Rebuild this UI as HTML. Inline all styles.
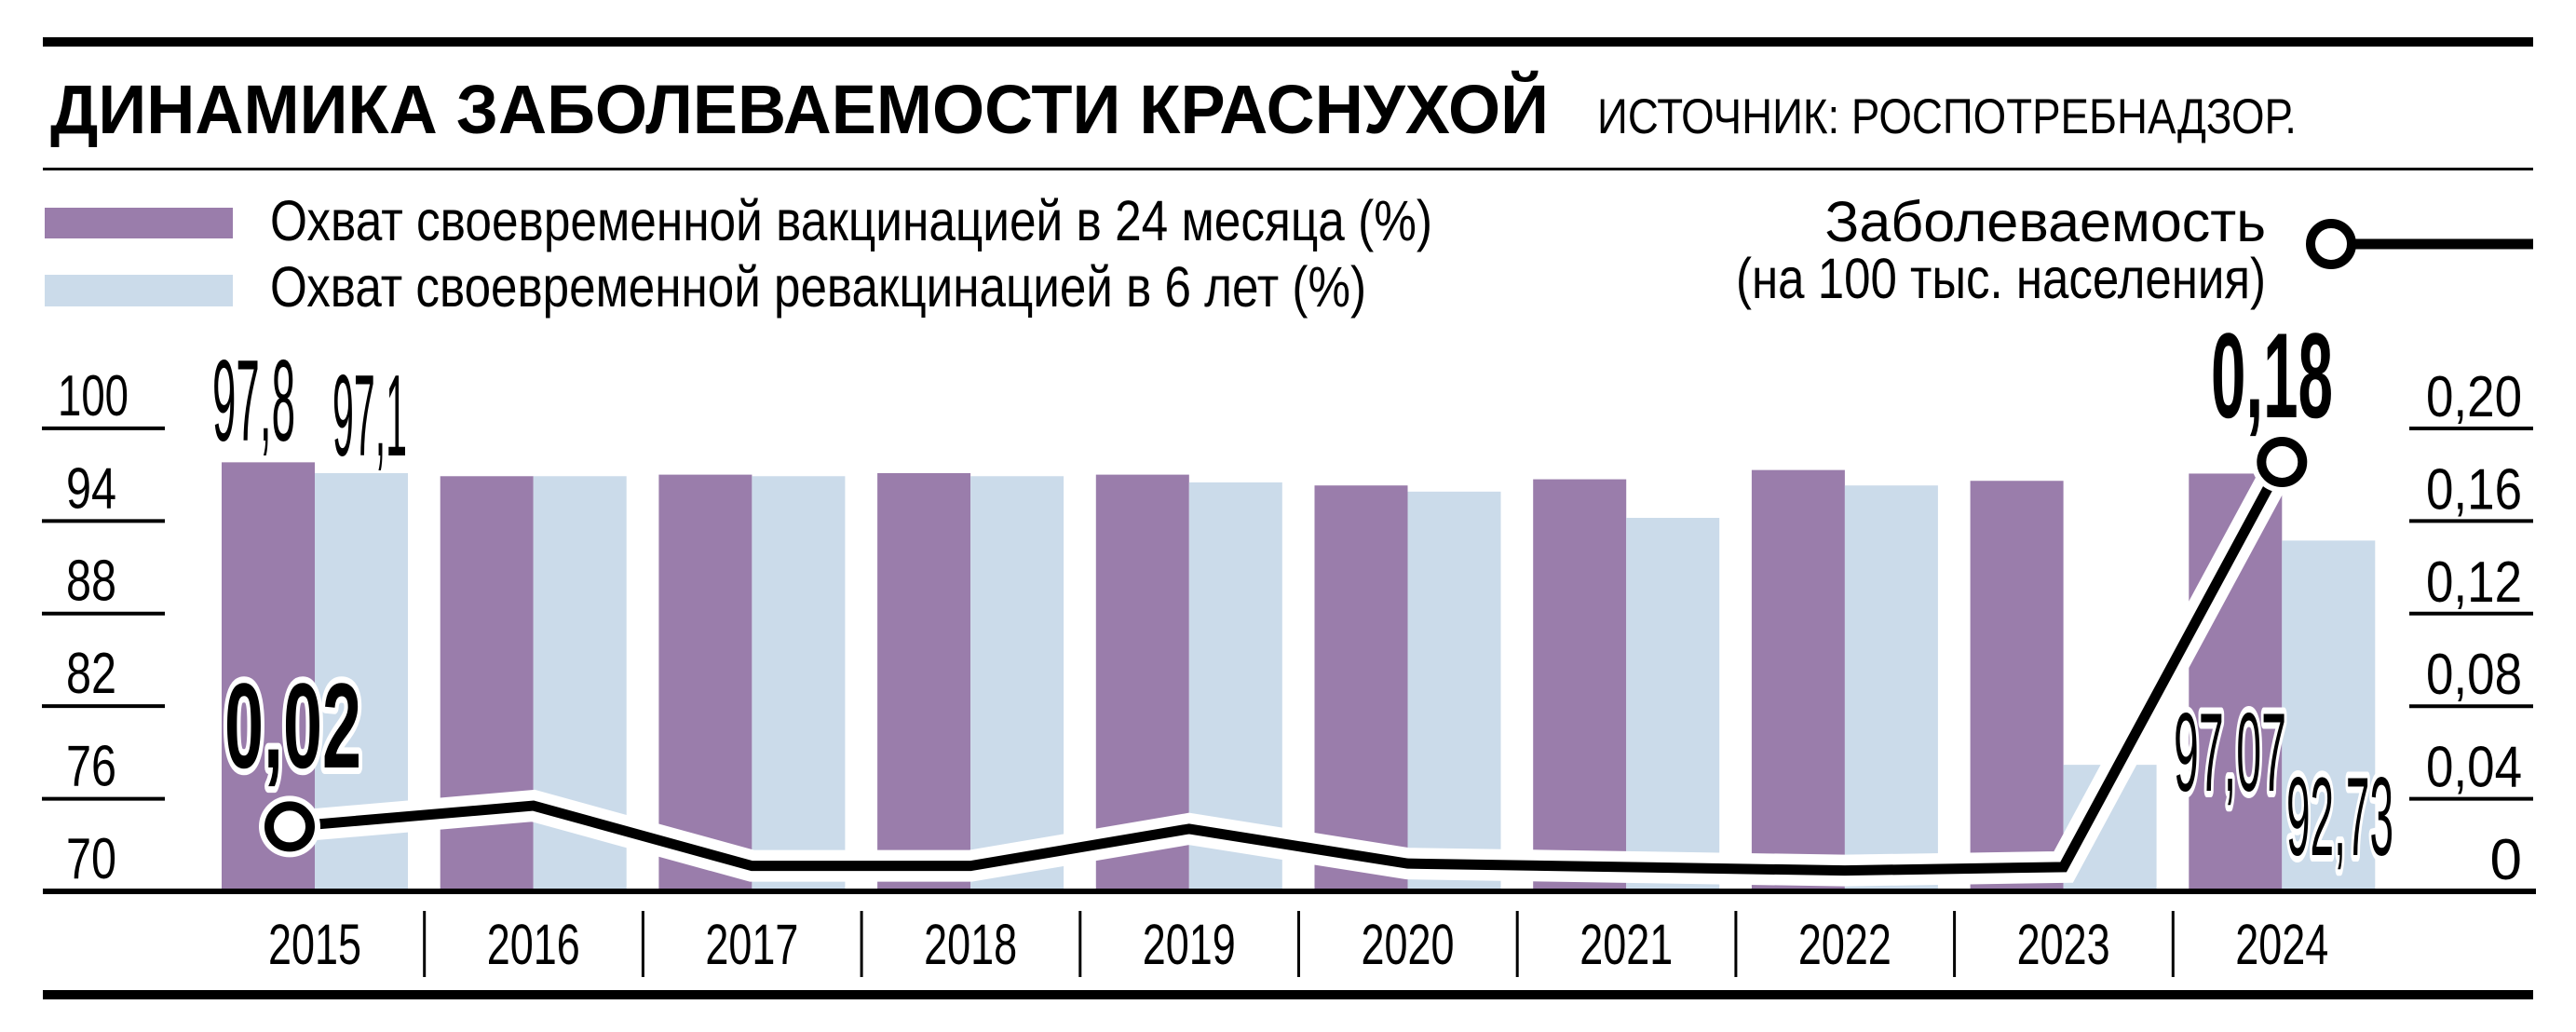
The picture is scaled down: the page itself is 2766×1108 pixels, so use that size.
<!DOCTYPE html>
<html><head><meta charset="utf-8"><style>
html,body{margin:0;padding:0;background:#fff;}
svg{display:block;font-family:"Liberation Sans Narrow","Liberation Sans",sans-serif;}
</style></head><body>
<svg id="chart" width="2766" height="1108" viewBox="0 0 2766 1108" xmlns="http://www.w3.org/2000/svg">
<rect x="46" y="40" width="2674" height="10" fill="#000"/>
<text x="54" y="143" font-size="74" font-weight="bold" textLength="1609" lengthAdjust="spacingAndGlyphs">ДИНАМИКА ЗАБОЛЕВАЕМОСТИ КРАСНУХОЙ</text>
<text x="1715" y="143" font-size="53" textLength="751" lengthAdjust="spacingAndGlyphs">ИСТОЧНИК: РОСПОТРЕБНАДЗОР.</text>
<rect x="46" y="180" width="2674" height="3" fill="#000"/>
<g>
<rect x="48" y="223" width="202" height="33" fill="#9a7dab"/>
<text x="290" y="258" font-size="61" textLength="1248" lengthAdjust="spacingAndGlyphs">Охват своевременной вакцинацией в 24 месяца (%)</text>
<rect x="48" y="295" width="202" height="34" fill="#cbdbea"/>
<text x="290" y="329" font-size="61" textLength="1177" lengthAdjust="spacingAndGlyphs">Охват своевременной ревакцинацией в 6 лет (%)</text>
<text x="2433" y="259" font-size="61" text-anchor="end">Заболеваемость</text>
<text x="1864" y="320" font-size="61" textLength="569" lengthAdjust="spacingAndGlyphs">(на 100 тыс. населения)</text>
<line x1="2528" y1="262" x2="2720" y2="262" stroke="#000" stroke-width="11"/>
<circle cx="2503" cy="262" r="22" fill="#fff" stroke="#000" stroke-width="10"/>
</g>
<g id="bars"></g>
<g id="axes"></g>
<g id="line"></g>
<g id="labels"></g>
<rect x="46" y="954" width="2677" height="6" fill="#000"/>
<rect x="46" y="1063" width="2674" height="10" fill="#000"/>
</svg>
<script>
const years = ["2015","2016","2017","2018","2019","2020","2021","2022","2023","2024"];
const vaccination = [97.8, 96.9, 97.0, 97.1, 97.0, 96.3, 96.7, 97.3, 96.6, 97.07];
const revaccination = [97.1, 96.9, 96.9, 96.9, 96.5, 95.9, 94.2, 96.3, 78.2, 92.73];
const incidence = [0.028, 0.037, 0.011, 0.011, 0.027, 0.012, 0.0105, 0.009, 0.0105, 0.1855];
const leftTicks = [70, 76, 82, 88, 94, 100];
const rightTicks = [0, 0.04, 0.08, 0.12, 0.16, 0.20];
const rightTickLabels = ["0", "0,04", "0,08", "0,12", "0,16", "0,20"];

const NS = "http://www.w3.org/2000/svg";
const yL = v => 957 - (v - 70) * 16.57;
const yR = v => 957 - v * 2485;
const xGroup = i => 238 + i * 234.7;
const xMid = i => xGroup(i) + 100;
const xLine = i => i === 0 ? xGroup(i) + 73 : xMid(i);
function mk(tag, attrs, parent) {
  const e = document.createElementNS(NS, tag);
  for (const k in attrs) e.setAttribute(k, attrs[k]);
  parent.appendChild(e);
  return e;
}
const bars = document.getElementById("bars");
const axes = document.getElementById("axes");
const lineG = document.getElementById("line");
const labels = document.getElementById("labels");

years.forEach((y, i) => {
  const p = mk("rect", {x: xGroup(i), y: yL(vaccination[i]), width: 100, height: 957 - yL(vaccination[i]), fill: "#9a7dab"}, bars);
  
  
  const b = mk("rect", {x: xGroup(i) + 100, y: yL(revaccination[i]), width: 100, height: 957 - yL(revaccination[i]), fill: "#cbdbea"}, bars);
  
  
  const t = mk("text", {x: xMid(i), y: 1035, "font-size": 61, "text-anchor": "middle", textLength: 100, lengthAdjust: "spacingAndGlyphs"}, axes);
  t.textContent = y;
  
  
  if (i > 0) {
    const s = mk("line", {x1: xGroup(i) - 17, x2: xGroup(i) - 17, y1: 978, y2: 1049, stroke: "#000", "stroke-width": 3}, axes);
    
    
  }
});

leftTicks.forEach((v) => {
  const yy = yL(v);
  if (v !== 70) {
    const l = mk("line", {x1: 45, x2: 177, y1: yy, y2: yy, stroke: "#000", "stroke-width": 4}, axes);
    
    
  }
  const s = String(v);
  const t = mk("text", {x: s.length === 3 ? 62 : 71, y: yy - 14, "font-size": 62, textLength: s.length === 3 ? 76 : 54, lengthAdjust: "spacingAndGlyphs"}, axes);
  t.textContent = s;
  
  
});
rightTicks.forEach((v, i) => {
  const yy = yR(v);
  if (v !== 0) {
    const l = mk("line", {x1: 2587, x2: 2720, y1: yy, y2: yy, stroke: "#000", "stroke-width": 4}, axes);
    
    
  }
  const s = rightTickLabels[i];
  const t = mk("text", {x: 2708, y: yy - 13, "font-size": 62, "text-anchor": "end"}, axes);
  if (s.length > 1) { t.setAttribute("textLength", 103); t.setAttribute("lengthAdjust", "spacingAndGlyphs"); }
  t.textContent = s;
  
  
});

const pts = incidence.map((v, i) => xLine(i) + "," + yR(v)).join(" ");
const halo = mk("polyline", {points: pts, fill: "none", stroke: "#fff", "stroke-width": 34, "stroke-linejoin": "miter"}, lineG);


const ln = mk("polyline", {points: pts, fill: "none", stroke: "#000", "stroke-width": 11, "stroke-linejoin": "miter"}, lineG);


[0, incidence.length - 1].forEach(i => {
  const h = mk("circle", {cx: xLine(i), cy: yR(incidence[i]), r: 33, fill: "#fff"}, lineG);
  
  
  const c = mk("circle", {cx: xLine(i), cy: yR(incidence[i]), r: 22, fill: "#fff", stroke: "#000", "stroke-width": 10}, lineG);
  
  
});

function label(txt, x, y, len, size, bold, halo, name) {
  const t = mk("text", {x: x, y: y, "font-size": size, textLength: len, lengthAdjust: "spacingAndGlyphs", "font-weight": bold ? "bold" : "normal"}, labels);
  if (halo) { t.setAttribute("stroke", "#fff"); t.setAttribute("stroke-width", 14); t.setAttribute("paint-order", "stroke"); t.setAttribute("stroke-linejoin", "round"); }
  t.textContent = txt;
  
  
}
label("97,8", 228, 473, 89, 124, false, false, 'value-label-vaccination-2015');
label("97,1", 357, 489, 80, 124, false, false, 'value-label-revaccination-2015');
label("0,02", 241, 824, 147, 130, true, true, 'value-label-incidence-2015');
label("0,18", 2374, 448, 131, 130, true, false, 'value-label-incidence-2024');
label("97,07", 2334, 849, 121, 120, false, true, 'value-label-vaccination-2024');
label("92,73", 2455, 918, 115, 120, false, true, 'value-label-revaccination-2024');
</script>
</body></html>
